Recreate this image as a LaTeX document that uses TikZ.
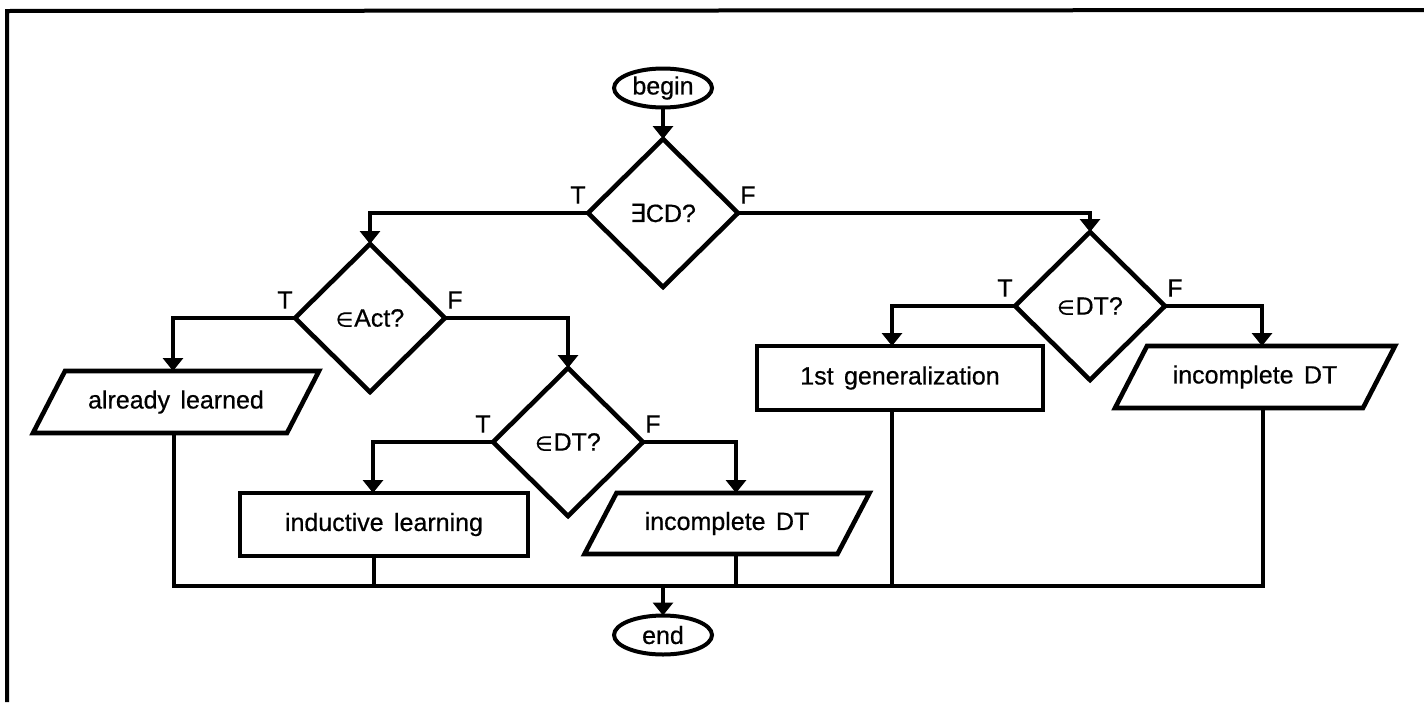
\documentclass[tikz,border=0pt]{standalone}
\usepackage{fontspec}
\setmainfont{Liberation Sans}[WordSpace=1.5]
\newfontfamily\labelfont{Liberation Sans}[WordSpace=1.5, FakeBold=0.6]
\newfontfamily\symfont{DejaVu Sans}[FakeBold=0.6]
\usetikzlibrary{shapes.geometric,arrows.meta,calc}

\tikzset{
  txt/.style={font=\labelfont\fontsize{12.5}{14}\selectfont},
  box/.style={txt, draw, line width=2.3pt, rectangle, inner sep=0pt, outer sep=0pt},
  plain/.style={txt, rectangle, inner sep=0pt, outer sep=0pt},
  decision/.style={txt, draw, diamond, line width=2.3pt, inner sep=0pt, outer sep=0pt,
    minimum width=75pt, minimum height=74pt},
  terminal/.style={txt, draw, ellipse, line width=2pt, inner sep=0pt, outer sep=0pt,
    minimum width=49pt, minimum height=19.5pt},
  flow/.style={line width=2pt},
  into/.style={flow, -{Triangle[width=10pt,length=6.5pt]}},
  branch/.style={txt},
}

% small set-membership sign and existential sign
\newcommand\member{{\symfont\fontsize{10}{12}\selectfont ∈}\kern0.5pt}
\newcommand\exist{{\symfont ∃}}

% slanted (input/output) box drawn around a plain node
\newcommand\drawslant[2]{%
  \draw[line width=2.3pt]
    ($(#1.north west)+(#2,0)$) -- ($(#1.north east)+(#2,0)$) --
    ($(#1.south east)+(-#2,0)$) -- ($(#1.south west)+(-#2,0)$) -- cycle;}

\begin{document}
\begin{tikzpicture}[x=0.5pt,y=-0.5pt]
\useasboundingbox (0,0) rectangle (1424,702);

% page frame
\draw[line width=2pt] (7,702) -- (7,11) -- (1424,10);

% nodes
\node[terminal] (begin) at (663,88) {begin};
\node[decision] (cd)  at (663,213) {\exist CD?};
\node[decision] (act) at (370,318) {\member Act?};
\node[decision] (dtM) at (568,442) {\member DT?};
\node[decision] (dtR) at (1090,306) {\member DT?};

\node[plain, minimum width=127pt, minimum height=31pt] (al) at (176,402) {already learned};
\drawslant{al}{16}
\node[box, minimum width=144pt, minimum height=31.5pt] (il) at (384,524.5) {inductive learning};
\node[plain, minimum width=126.5pt, minimum height=30.5pt] (icM) at (727,523.5) {incomplete DT};
\drawslant{icM}{16}
\node[box, minimum width=143pt, minimum height=32pt] (gen) at (900,378) {1st generalization};
\node[plain, minimum width=124pt, minimum height=31pt] (icR) at (1255,377) {incomplete DT};
\drawslant{icR}{16}
\node[terminal] (end) at (663,635) {end};

% branch labels
\node[branch] at ([shift={(-10,-18)}]cd.west) {T};
\node[branch] at ([shift={(10,-18)}]cd.east) {F};
\node[branch] at ([shift={(-10,-18)}]act.west) {T};
\node[branch] at ([shift={(10,-18)}]act.east) {F};
\node[branch] at ([shift={(-10,-18)}]dtM.west) {T};
\node[branch] at ([shift={(10,-18)}]dtM.east) {F};
\node[branch] at ([shift={(-10,-18)}]dtR.west) {T};
\node[branch] at ([shift={(10,-18)}]dtR.east) {F};

% connectors
\draw[into] (begin.south) -- (cd.north);
\draw[into] (cd.west) -| (act.north);
\draw[into] (cd.east) -| (dtR.north);
\draw[into] (act.west) -| ([xshift=-1.5pt]al.north);
\draw[into] (act.east) -| (dtM.north);
\draw[into] (dtM.west) -| ([xshift=-5.5pt]il.north);
\draw[into] (dtM.east) -| ([xshift=4.5pt]icM.north);
\draw[into] (dtR.west) -| ([xshift=-4pt]gen.north);
\draw[into] (dtR.east) -| ([xshift=3.5pt]icR.north);

% collecting line
\coordinate (join) at (663,586);
\coordinate (alout) at ([xshift=-1pt]al.south);
\coordinate (ilout) at ([xshift=-5pt]il.south);
\coordinate (icMout) at ([xshift=4.5pt]icM.south);
\coordinate (genout) at ([xshift=-4pt]gen.south);
\coordinate (icRout) at ([xshift=4pt]icR.south);
\draw[flow] (alout) |- (join) -| (icRout);
\draw[flow] (ilout) -- (ilout |- join);
\draw[flow] (icMout) -- (icMout |- join);
\draw[flow] (genout) -- (genout |- join);
\draw[into] (join) -- (end.north);
\end{tikzpicture}
\end{document}
